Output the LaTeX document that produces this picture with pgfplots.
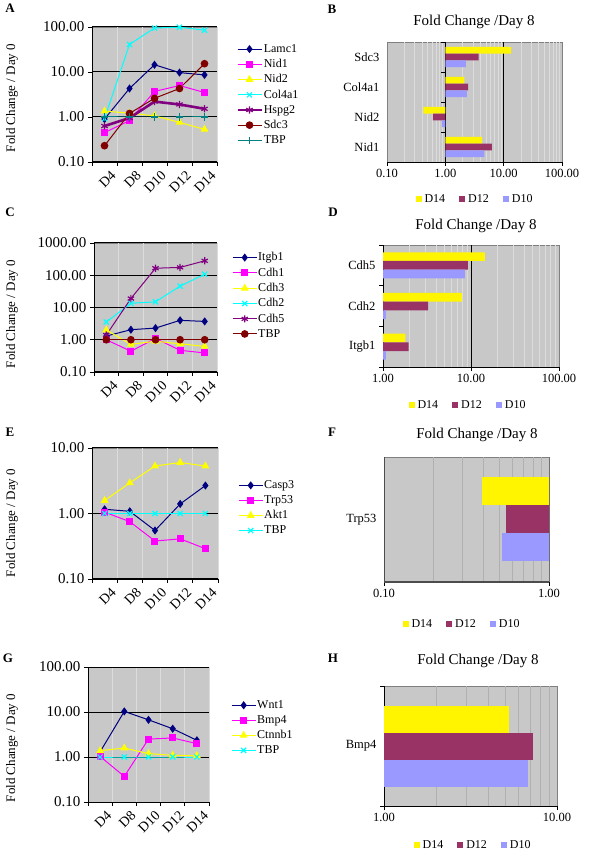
\documentclass[border=0pt]{standalone}
\usepackage{fontspec}
\setmainfont{Liberation Serif}
\usepackage{pgfplots}
\pgfplotsset{compat=1.18}

\definecolor{bggray}{HTML}{C8C8C8}
\definecolor{gridlight}{HTML}{DCDCDC}
\definecolor{griddark}{HTML}{B0B0B0}
\definecolor{bordergray}{HTML}{808080}
\definecolor{navyc}{HTML}{000080}
\definecolor{magc}{HTML}{FF00FF}
\definecolor{yelc}{HTML}{FFFF00}
\definecolor{cyac}{HTML}{00FFFF}
\definecolor{purc}{HTML}{800080}
\definecolor{dredc}{HTML}{800000}
\definecolor{tealc}{HTML}{008080}
\definecolor{barY}{HTML}{FFF500}
\definecolor{barM}{HTML}{993366}
\definecolor{barL}{HTML}{9999FF}

\pgfplotsset{
  linechart/.style={
    scale only axis, anchor=south west,
    xmin=0, xmax=5,
    xtick={0.5,1.5,2.5,3.5,4.5}, xticklabels={D4,D8,D10,D12,D14},
    minor xtick={0,1,2,3,4,5},
    axis lines*=left,
    axis line style={black, line width=0.8pt},
    tick align=outside,
    major tick length=4pt, minor tick length=4pt,
    every major x tick/.append style={draw=none},
    every minor y tick/.append style={draw=none},
    every tick/.append style={black, line width=0.8pt},
    xminorgrids, ymajorgrids,
    minor x grid style={gridlight, line width=0.8pt},
    major y grid style={black, line width=1pt},
    axis background/.style={fill=bggray, draw=bordergray},
    tick label style={font=\fontsize{15}{15}\selectfont},
    xticklabel style={font=\fontsize{14}{14}\selectfont, rotate=45, anchor=north east, xshift=5pt, yshift=-3pt},
    legend style={draw=none, fill=none, font=\fontsize{12}{12}\selectfont, anchor=north west, row sep=3.5pt, nodes={inner sep=1pt}},
    legend cell align=left,
    legend image code/.code={\draw[mark repeat=2,mark phase=2,##1] plot coordinates {(0pt,0pt) (12pt,0pt) (24pt,0pt)};},
    every axis plot/.append style={line width=1pt},
  },
  barchart/.style={
    scale only axis, anchor=south west,
    axis x line*=bottom, axis y line*=left,
    axis line style={black, line width=0.8pt},
    tick align=outside, major tick length=4pt, minor tick length=4pt,
    every minor x tick/.append style={draw=none},
    every major y tick/.append style={draw=none},
    every tick/.append style={black, line width=0.8pt},
    xminorgrids,
    minor x grid style={gridlight, line width=0.8pt},
    axis background/.style={fill=bggray, draw=bordergray},
    xticklabel style={font=\fontsize{12.5}{12.5}\selectfont},
    yticklabel style={font=\fontsize{12.5}{12.5}\selectfont},
    legend style={draw=none, fill=none, font=\fontsize{12}{12}\selectfont, anchor=center, /tikz/every even column/.append style={column sep=12pt}, /tikz/every odd column/.append style={column sep=1pt}},
    legend columns=3,
    legend image code/.code={\fill[##1] (0pt,-3pt) rectangle (6pt,3pt);},
    extra x tick style={grid=major, major grid style={black, line width=1pt}},
  },
}

\begin{document}
\begin{tikzpicture}[x=1pt,y=1pt]
\useasboundingbox (0,0) rectangle (600,863);

% ---------------- A ----------------
\begin{semilogyaxis}[linechart, at={(92pt,701pt)}, width=125pt, height=135pt,
  ymin=0.1, ymax=100, ytick={0.1,1,10,100}, yticklabels={0.10,1.00,10.00,100.00},
  legend style={at={(1.128,0.895)}}]
\addplot[navyc, mark=diamond*, mark size=3.3pt, mark options={fill=navyc}] coordinates {(0.5,0.9) (1.5,4.3) (2.5,14.5) (3.5,9.7) (4.5,8.6)};
\addplot[magc, mark=square*, mark size=3pt, mark options={fill=magc}] coordinates {(0.5,0.45) (1.5,0.83) (2.5,3.7) (3.5,5.0) (4.5,3.5)};
\addplot[yelc, mark=triangle*, mark size=3.6pt, mark options={fill=yelc}] coordinates {(0.5,1.35) (1.5,1.22) (2.5,1.06) (3.5,0.76) (4.5,0.53)};
\addplot[cyac, mark=x, mark size=3.6pt, mark options={line width=1.2pt}] coordinates {(0.5,0.92) (1.5,41) (2.5,95) (3.5,99) (4.5,85)};
\addplot[purc, line width=2.6pt, mark=asterisk, mark size=3.6pt, mark options={line width=1.2pt}] coordinates {(0.5,0.63) (1.5,0.95) (2.5,2.2) (3.5,1.9) (4.5,1.52)};
\addplot[dredc, mark=*, mark size=3.3pt, mark options={fill=dredc}] coordinates {(0.5,0.23) (1.5,1.2) (2.5,2.6) (3.5,4.3) (4.5,15.3)};
\addplot[tealc, mark=+, mark size=3.6pt, mark options={line width=1.2pt}] coordinates {(0.5,1) (1.5,1) (2.5,1) (3.5,1) (4.5,1)};
\legend{Lamc1,Nid1,Nid2,Col4a1,Hspg2,Sdc3,TBP}
\end{semilogyaxis}

% ---------------- B ----------------
\begin{semilogxaxis}[barchart, log origin x=0, at={(387pt,701pt)}, width=175pt, height=120pt,
  xmin=0.1, xmax=100, xtick={0.1,1,10,100}, xticklabels={0.10,1.00,10.00,100.00},
  minor xtick={0.2,0.3,0.4,0.5,0.6,0.7,0.8,0.9,2,3,4,5,6,7,8,9,20,30,40,50,60,70,80,90},
  extra x ticks={1,10}, extra x tick labels={},
  ymin=-0.5, ymax=3.5, ytick={0,1,2,3}, yticklabels={Nid1,Nid2,Col4a1,Sdc3},
  y axis line style={draw=none},
  legend style={at={(0.503,-0.308)}}]
\addplot[xbar, bar width=6.7pt, bar shift=6.7pt, fill=barY, draw=none] coordinates {(4.26,0) (0.42,1) (2.12,2) (13.4,3)};
\addplot[xbar, bar width=6.7pt, bar shift=0pt, fill=barM, draw=none] coordinates {(6.3,0) (0.61,1) (2.45,2) (3.73,3)};
\addplot[xbar, bar width=6.7pt, bar shift=-6.7pt, fill=barL, draw=none] coordinates {(4.67,0) (0.88,1) (2.35,2) (2.26,3)};
\draw[black, line width=0.8pt] (axis cs:1,0.5) -- ++(-4pt,0pt);
\draw[black, line width=0.8pt] (axis cs:1,1.5) -- ++(-4pt,0pt);
\draw[black, line width=0.8pt] (axis cs:1,2.5) -- ++(-4pt,0pt);
\draw[black, line width=0.8pt] (axis cs:1,3.5) -- ++(-4pt,0pt);
\legend{D14,D12,D10}
\end{semilogxaxis}

% ---------------- C ----------------
\begin{semilogyaxis}[linechart, at={(94pt,491pt)}, width=123pt, height=129pt,
  ymin=0.1, ymax=1000, ytick={0.1,1,10,100,1000}, yticklabels={0.10,1.00,10.00,100.00,1000.00},
  legend style={at={(1.098,0.95)}}]
\addplot[navyc, mark=diamond*, mark size=3.3pt, mark options={fill=navyc}] coordinates {(0.5,1.3) (1.5,2.05) (2.5,2.3) (3.5,4.0) (4.5,3.7)};
\addplot[magc, mark=square*, mark size=3pt, mark options={fill=magc}] coordinates {(0.5,1.0) (1.5,0.44) (2.5,1.1) (3.5,0.47) (4.5,0.39)};
\addplot[yelc, mark=triangle*, mark size=3.6pt, mark options={fill=yelc}] coordinates {(0.5,2.0) (1.5,0.72) (2.5,0.9) (3.5,0.75) (4.5,0.62)};
\addplot[cyac, mark=x, mark size=3.6pt, mark options={line width=1.2pt}] coordinates {(0.5,3.55) (1.5,13.5) (2.5,15) (3.5,46) (4.5,108)};
\addplot[purc, mark=asterisk, mark size=3.6pt, mark options={line width=1.2pt}] coordinates {(0.5,1.4) (1.5,19) (2.5,165) (3.5,175) (4.5,280)};
\addplot[dredc, mark=*, mark size=3.3pt, mark options={fill=dredc}] coordinates {(0.5,1) (1.5,1) (2.5,1) (3.5,1) (4.5,1)};
\legend{Itgb1,Cdh1,Cdh3,Cdh2,Cdh5,TBP}
\end{semilogyaxis}

% ---------------- D ----------------
\begin{semilogxaxis}[barchart, log origin x=0, at={(383pt,496pt)}, width=176pt, height=122pt,
  xmin=1, xmax=100, xtick={1,10,100}, xticklabels={1.00,10.00,100.00},
  minor xtick={2,3,4,5,6,7,8,9,20,30,40,50,60,70,80,90},
  extra x ticks={10}, extra x tick labels={},
  ymin=-0.5, ymax=2.5, ytick={0,1,2}, yticklabels={Itgb1,Cdh2,Cdh5},
  minor ytick={-0.5,0.5,1.5,2.5},
  legend style={at={(0.483,-0.311)}}]
\addplot[xbar, bar width=8.7pt, bar shift=8.7pt, fill=barY, draw=none] coordinates {(1.8,0) (7.9,1) (14.4,2)};
\addplot[xbar, bar width=8.7pt, bar shift=0pt, fill=barM, draw=none] coordinates {(1.96,0) (3.26,1) (9.2,2)};
\addplot[xbar, bar width=8.7pt, bar shift=-8.7pt, fill=barL, draw=none] coordinates {(1.08,0) (1.08,1) (8.5,2)};
\legend{D14,D12,D10}
\end{semilogxaxis}

% ---------------- E ----------------
\begin{semilogyaxis}[linechart, at={(92pt,284pt)}, width=126pt, height=131pt,
  ymin=0.1, ymax=10, ytick={0.1,1,10}, yticklabels={0.10,1.00,10.00},
  legend style={at={(1.135,0.775)}}]
\addplot[navyc, mark=diamond*, mark size=3.3pt, mark options={fill=navyc}] coordinates {(0.5,1.16) (1.5,1.08) (2.5,0.55) (3.5,1.4) (4.5,2.67)};
\addplot[magc, mark=square*, mark size=3pt, mark options={fill=magc}] coordinates {(0.5,1.05) (1.5,0.75) (2.5,0.38) (3.5,0.41) (4.5,0.29)};
\addplot[yelc, mark=triangle*, mark size=3.6pt, mark options={fill=yelc}] coordinates {(0.5,1.58) (1.5,2.93) (2.5,5.3) (3.5,6.0) (4.5,5.3)};
\addplot[cyac, mark=x, mark size=3.6pt, mark options={line width=1.2pt}] coordinates {(0.5,1) (1.5,1) (2.5,1) (3.5,1) (4.5,1)};
\legend{Casp3,Trp53,Akt1,TBP}
\end{semilogyaxis}

% ---------------- F (log10 of the values on a linear axis) ----------------
\begin{axis}[barchart, at={(384pt,281pt)}, width=165pt, height=125pt,
  xmin=-1, xmax=0, xtick={-1,0}, xticklabels={0.10,1.00},
  minor xtick={-0.69897,-0.52288,-0.39794,-0.30103,-0.22185,-0.15490,-0.09691,-0.04576},
  minor x grid style={griddark, line width=0.8pt},
  x filter/.expression={log10(x)},
  x axis line style={draw=black!70, line width=2pt},
  y axis line style={draw=black!70, line width=0.8pt},
  ymin=-0.5, ymax=0.5, ytick={0}, yticklabels={Trp53},
  legend style={at={(0.473,-0.336)}}]
\addplot[xbar, bar width=28pt, bar shift=28pt, fill=barY, draw=none] coordinates {(0.39,0)};
\addplot[xbar, bar width=28pt, bar shift=0pt, fill=barM, draw=none] coordinates {(0.55,0)};
\addplot[xbar, bar width=28pt, bar shift=-28pt, fill=barL, draw=none] coordinates {(0.52,0)};
\draw[black, line width=1pt] (rel axis cs:1,0) -- (rel axis cs:1,1);
\legend{D14,D12,D10}
\end{axis}

% ---------------- G ----------------
\begin{semilogyaxis}[linechart, at={(88pt,61pt)}, width=121pt, height=135pt,
  ymin=0.1, ymax=100, ytick={0.1,1,10,100}, yticklabels={0.10,1.00,10.00,100.00},
  legend style={at={(1.157,0.775)}}]
\addplot[navyc, mark=diamond*, mark size=3.3pt, mark options={fill=navyc}] coordinates {(0.5,1.3) (1.5,10.3) (2.5,6.7) (3.5,4.25) (4.5,2.35)};
\addplot[magc, mark=square*, mark size=3pt, mark options={fill=magc}] coordinates {(0.5,1.03) (1.5,0.37) (2.5,2.5) (3.5,2.65) (4.5,1.98)};
\addplot[yelc, mark=triangle*, mark size=3.6pt, mark options={fill=yelc}] coordinates {(0.5,1.38) (1.5,1.58) (2.5,1.19) (3.5,1.09) (4.5,1.07)};
\addplot[cyac, mark=x, mark size=3.6pt, mark options={line width=1.2pt}] coordinates {(0.5,1) (1.5,1) (2.5,1) (3.5,1) (4.5,1)};
\legend{Wnt1,Bmp4,Ctnnb1,TBP}
\end{semilogyaxis}

% ---------------- H (log10 of the values on a linear axis) ----------------
\begin{axis}[barchart, at={(384pt,57pt)}, width=173pt, height=120pt,
  xmin=0, xmax=1, xtick={0,1}, xticklabels={1.00,10.00},
  minor xtick={0.30103,0.47712,0.60206,0.69897,0.77815,0.84510,0.90309,0.95424},
  minor x grid style={griddark, line width=0.8pt},
  x filter/.expression={log10(x)},
  ymin=-0.5, ymax=0.5, ytick={0}, yticklabels={Bmp4},
  minor ytick={-0.5,0.5},
  legend style={at={(0.515,-0.325)}}]
\addplot[xbar, bar width=27pt, bar shift=27pt, fill=barY, draw=none] coordinates {(5.3,0)};
\addplot[xbar, bar width=27pt, bar shift=0pt, fill=barM, draw=none] coordinates {(7.3,0)};
\addplot[xbar, bar width=27pt, bar shift=-27pt, fill=barL, draw=none] coordinates {(6.8,0)};
\legend{D14,D12,D10}
\end{axis}

% ---------------- texts ----------------
\begin{scope}[font=\fontsize{13}{13}\selectfont\bfseries]
\node at (10,855) {A};
\node at (332,854) {B};
\node at (10,651) {C};
\node at (333,651) {D};
\node at (10,431) {E};
\node at (332,431) {F};
\node at (8,205) {G};
\node at (333,205) {H};
\end{scope}
\begin{scope}[font=\fontsize{15}{15}\selectfont]
\node at (474,841) {Fold Change /Day 8};
\node at (476,637) {Fold Change /Day 8};
\node at (477,428) {Fold Change /Day 8};
\node at (478,202) {Fold Change /Day 8};
\end{scope}
\begin{scope}[font=\fontsize{13}{13}\selectfont]
\node[rotate=90] at (12,765) {Fold Change / Day 0};
\node[rotate=90] at (12,549) {Fold Change / Day 0};
\node[rotate=90] at (12,340) {Fold Change / Day 0};
\node[rotate=90] at (12,115) {Fold Change / Day 0};
\end{scope}
\end{tikzpicture}
\end{document}
